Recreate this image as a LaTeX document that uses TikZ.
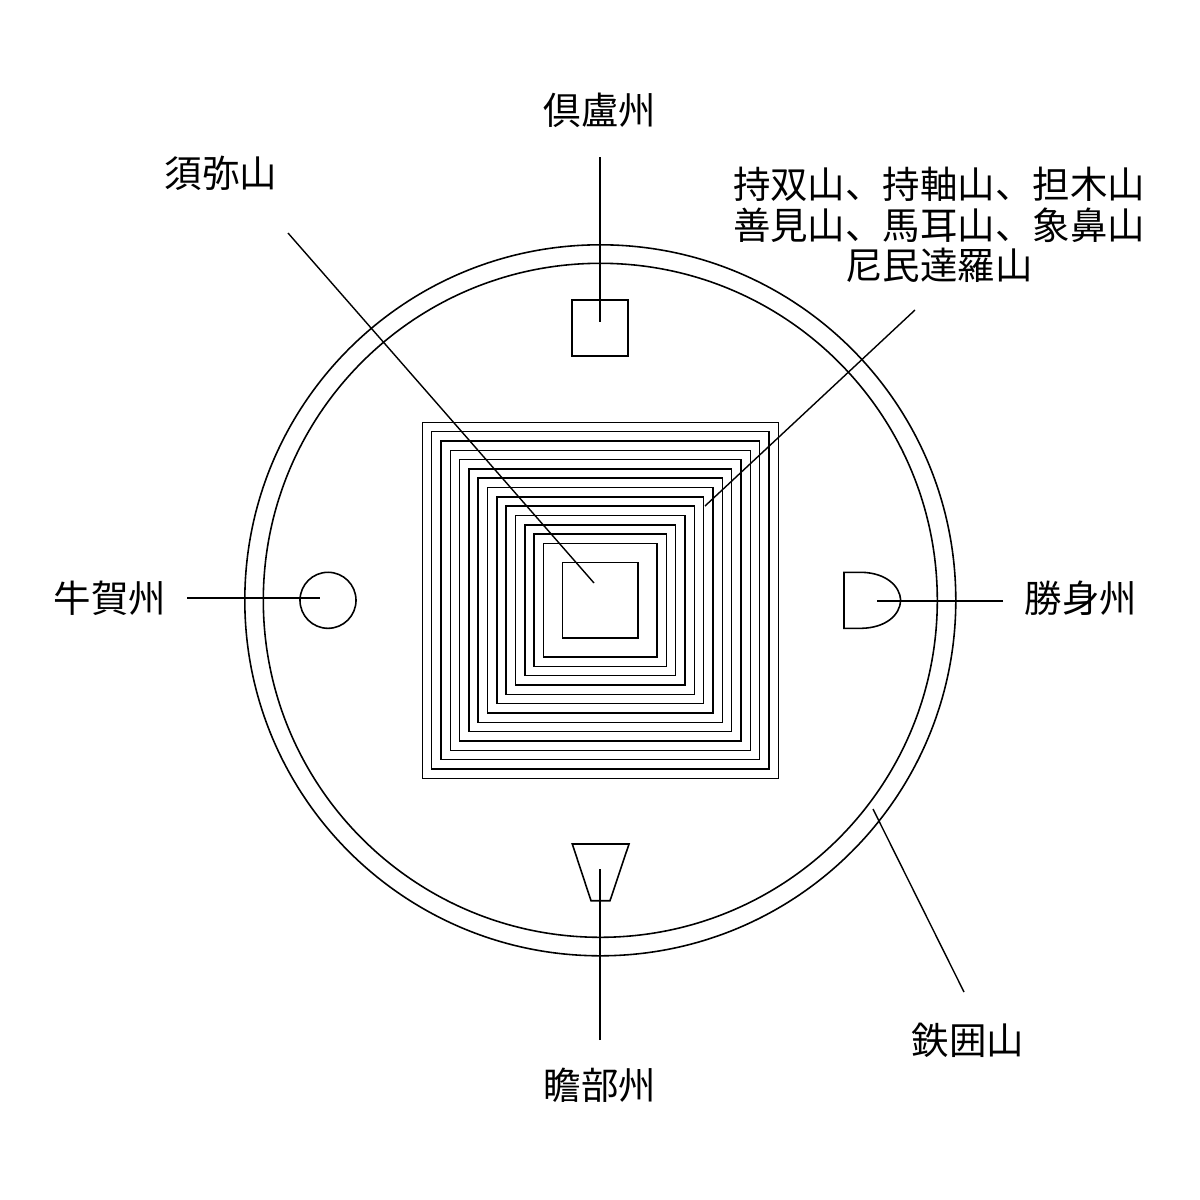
\documentclass[tikz,border=0pt]{standalone}
\usepackage{fontspec}
\newfontfamily\jpfont{Noto Sans CJK JP}
\usepackage{tikz}
\usetikzlibrary{positioning}
\usetikzlibrary{calc}
\tikzset{>=latex}

\begin{document}
\begin{tikzpicture}[
        x=0.01cm, y=-0.01cm,
        outline/.style={draw, line width=0.45pt},
        pointer/.style={draw, line width=0.4pt},
        placename/.style={font=\jpfont\fontsize{10.65}{11.5}\selectfont, inner sep=0pt, align=center}
    ]
    \useasboundingbox (0,0) rectangle (1200,1200);

    %=== Centre and ring parameters ===%
    \def\cx{600.3}
    \def\cy{600.3}
    \def\rangegap{9.33} % gap between the golden mountain ranges

    % Iron ring (two circles)
    \draw[outline] (\cx,\cy) circle[radius=355.5];
    \draw[outline] (\cx,\cy) circle[radius=337];

    %=== Seven ranges round Meru ===%
    \foreach \i in {0,...,13}{
        \pgfmathsetmacro{\h}{178-\rangegap*\i}
        \draw[outline] ({\cx-\h},{\cy-\h}) rectangle ({\cx+\h},{\cy+\h});
    }
    \node[outline, minimum size=0.754cm, inner sep=0pt] (meru) at (\cx,\cy) {};

    %=== Four continents ===%
    \node[outline, minimum size=0.56cm, inner sep=0pt] (kurusq) at (600,328) {};
    \node[outline, circle, minimum size=0.56cm, inner sep=0pt] (godacirc) at (328,600.3) {};
    \draw[outline] (844,572.3) -- (862,572.3)
        .. controls (886,573) and (900,586) .. (900.7,600.3)
        .. controls (900,615) and (886,627.6) .. (862,628.3)
        -- (844,628.3) -- cycle;
    \draw[outline] (572.3,844) -- (629,844) -- (610,900.7) -- (591,900.7) -- cycle;

    %=== Labels ===%
    \node[placename] (kuru) at (600,110) {倶盧州};
    \node[placename] (sumeru) at (221,173) {須弥山};
    \node[placename] (ranges) at (939,225) {持双山、持軸山、担木山\\善見山、馬耳山、象鼻山\\尼民達羅山};
    \node[placename] (goda) at (110,598) {牛賀州};
    \node[placename] (videha) at (1081,598) {勝身州};
    \node[placename] (jambu) at (600,1085) {瞻部州};
    \node[placename] (iron) at (968,1040) {鉄囲山};

    %=== Pointer ends ===%
    \coordinate (kuru-a) at (600,157);
    \coordinate (kuru-b) at (600,322);
    \coordinate (sumeru-a) at (288,233);
    \coordinate (sumeru-b) at (594,583);
    \coordinate (ranges-a) at (915,310);
    \coordinate (ranges-b) at (705,506);
    \coordinate (goda-a) at (187,598);
    \coordinate (goda-b) at (320,598);
    \coordinate (videha-a) at (1003,601);
    \coordinate (videha-b) at (877,601);
    \coordinate (jambu-a) at (600,1040);
    \coordinate (jambu-b) at (600,869);
    \coordinate (iron-a) at (964,992);
    \coordinate (iron-b) at (873,809);

    \foreach \p in {kuru,sumeru,ranges,goda,videha,jambu,iron}
        \draw[pointer] (\p-a) -- (\p-b);

\end{tikzpicture}
\end{document}
